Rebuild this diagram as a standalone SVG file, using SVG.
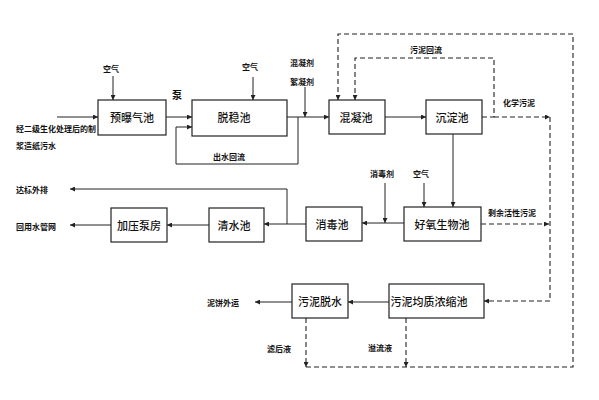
<svg xmlns="http://www.w3.org/2000/svg" width="599" height="400" viewBox="0 0 599 400">
<style>
.box{fill:#fff;stroke:#222;stroke-width:1.2}
.bt{font-family:"Noto Sans CJK SC","Liberation Sans",sans-serif;font-size:11px;font-weight:500;fill:#111;text-anchor:middle;dominant-baseline:central}
.lb{font-family:"Noto Sans CJK SC","Liberation Sans",sans-serif;font-size:8px;font-weight:bold;fill:#111;dominant-baseline:central}
.ln{fill:none;stroke:#222;stroke-width:1}
.ds{fill:none;stroke:#222;stroke-width:1.1;stroke-dasharray:5,3}
</style>
<defs>
<marker id="ah" viewBox="0 0 10 10" refX="10" refY="5" markerWidth="7" markerHeight="5" orient="auto" markerUnits="userSpaceOnUse">
<path d="M0,0 L10,5 L0,10 z" fill="#222"/>
</marker>
</defs>
<rect width="599" height="400" fill="#fff"/>
<g id="connectors">
<path class="ln" d="M57,117 H98" marker-end="url(#ah)"/>
<path class="ln" d="M113,76 V100" marker-end="url(#ah)"/>
<path class="ln" d="M166,117 H192" marker-end="url(#ah)"/>
<path class="ln" d="M253,77 V100" marker-end="url(#ah)"/>
<path class="ln" d="M287,117 H329" marker-end="url(#ah)"/>
<path class="ln" d="M305,87 V117" marker-end="url(#ah)"/>
<path class="ln" d="M298,117 V164 H176 V127 H192" marker-end="url(#ah)"/>
<path class="ln" d="M385,117 H426" marker-end="url(#ah)"/>
<path class="ln" d="M453,134 V207" marker-end="url(#ah)"/>
<path class="ln" d="M424,183 V207" marker-end="url(#ah)"/>
<path class="ln" d="M385,183 V223" marker-end="url(#ah)"/>
<path class="ln" d="M404,223 H362" marker-end="url(#ah)"/>
<path class="ln" d="M306,224 H264" marker-end="url(#ah)"/>
<path class="ln" d="M287,224 V189 H70" marker-end="url(#ah)"/>
<path class="ln" d="M209,225 H167" marker-end="url(#ah)"/>
<path class="ln" d="M111,225 H70" marker-end="url(#ah)"/>
<path class="ln" d="M389,302 H348" marker-end="url(#ah)"/>
<path class="ln" d="M292,302 H255" marker-end="url(#ah)"/>
<path class="ds" d="M482,117 H494 V58 H355 V100" marker-end="url(#ah)"/>
<path class="ds" d="M494,117 H550" marker-end="url(#ah)"/>
<path class="ds" d="M550,117 V301 H484" marker-end="url(#ah)"/>
<path class="ds" d="M481,224 H549" marker-end="url(#ah)"/>
<path class="ds" d="M306,318 V367" marker-end="url(#ah)"/>
<path class="ds" d="M406,318 V367" marker-end="url(#ah)"/>
<path class="ds" d="M306,367 H573 V34 H338 V100" marker-end="url(#ah)"/>
</g>
<g id="n1"><rect class="box" x="98" y="100" width="68" height="35"/><text class="bt" x="132" y="117">预曝气池</text></g>
<g id="n2"><rect class="box" x="192" y="100" width="95" height="36"/><text class="bt" x="234" y="117">脱稳池</text></g>
<g id="n3"><rect class="box" x="329" y="100" width="56" height="34"/><text class="bt" x="356" y="117">混凝池</text></g>
<g id="n4"><rect class="box" x="426" y="100" width="56" height="34"/><text class="bt" x="452" y="117">沉淀池</text></g>
<g id="n5"><rect class="box" x="404" y="207" width="77" height="34"/><text class="bt" x="442" y="224">好氧生物池</text></g>
<g id="n6"><rect class="box" x="306" y="207" width="56" height="34"/><text class="bt" x="332" y="224">消毒池</text></g>
<g id="n7"><rect class="box" x="209" y="208" width="55" height="34"/><text class="bt" x="234" y="225">清水池</text></g>
<g id="n8"><rect class="box" x="111" y="208" width="56" height="34"/><text class="bt" x="139" y="225">加压泵房</text></g>
<g id="n9"><rect class="box" x="292" y="284" width="56" height="34"/><text class="bt" x="320" y="301">污泥脱水</text></g>
<g id="n10"><rect class="box" x="389" y="284" width="95" height="34"/><text class="bt" x="429" y="301">污泥均质浓缩池</text></g>
<g id="labels">
<text class="lb" x="16" y="128">经二级生化处理后的制</text>
<text class="lb" x="16" y="145">浆造纸污水</text>
<text class="lb" x="103" y="68">空气</text>
<text class="lb" x="172" y="94" style="font-size:10px">泵</text>
<text class="lb" x="242" y="66">空气</text>
<text class="lb" x="290" y="62">混凝剂</text>
<text class="lb" x="290" y="81">絮凝剂</text>
<text class="lb" x="213" y="156">出水回流</text>
<text class="lb" x="410" y="49">污泥回流</text>
<text class="lb" x="503" y="102">化学污泥</text>
<text class="lb" x="370" y="173">消毒剂</text>
<text class="lb" x="413" y="173">空气</text>
<text class="lb" x="488" y="212">剩余活性污泥</text>
<text class="lb" x="16" y="189">达标外排</text>
<text class="lb" x="16" y="226">回用水管网</text>
<text class="lb" x="207" y="302">泥饼外运</text>
<text class="lb" x="267" y="348">滤后液</text>
<text class="lb" x="368" y="347">溢流液</text>
</g>
</svg>
